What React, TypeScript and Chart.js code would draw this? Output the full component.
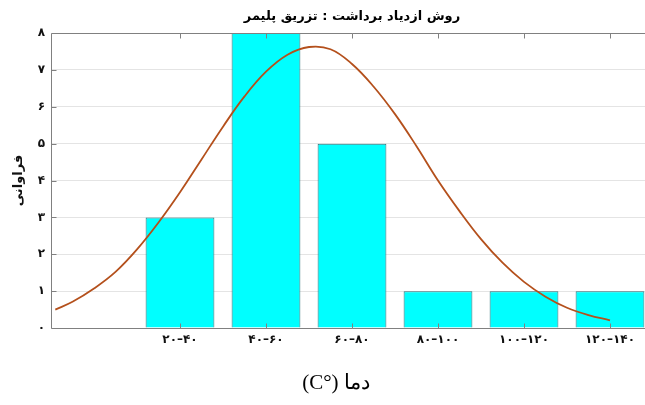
import React, { useEffect, useRef } from 'react';
import { Chart, registerables } from 'chart.js';

Chart.register(...registerables);

const chartTitle = 'روش ازدیاد برداشت : تزریق پلیمر';
const xAxisTitle = 'دما (°C)';
const yAxisTitle = 'فراوانی';

const binCenters = [30, 50, 70, 90, 110, 130];
const binLabels = ['۲۰–۴۰', '۴۰–۶۰', '۶۰–۸۰', '۸۰–۱۰۰', '۱۰۰–۱۲۰', '۱۲۰–۱۴۰'];
const frequencies = [3, 8, 5, 1, 1, 1];

const yTickLabels = ['۰', '۱', '۲', '۳', '۴', '۵', '۶', '۷', '۸'];

const fitX = [1, 5, 10, 15, 20, 25, 30, 35, 40, 45, 50, 55, 60, 65, 70, 75, 80, 85, 90, 95, 100, 105, 110, 115, 120, 125, 130];
const fitY = [0.5, 0.71, 1.07, 1.52, 2.13, 2.86, 3.68, 4.57, 5.46, 6.28, 6.95, 7.41, 7.62, 7.56, 7.16, 6.55, 5.8, 4.93, 4.0, 3.17, 2.41, 1.77, 1.25, 0.85, 0.55, 0.35, 0.21];

const decorPlugin = {
  id: 'decor',
  afterDatasetsDraw(chart: any) {
    const { ctx, chartArea } = chart;
    const { left, right, top, bottom } = chartArea;
    const x = chart.scales.x;
    const y = chart.scales.y;
    const L = Math.round(left) + 0.5;
    const T = Math.round(top) + 0.5;
    const B = Math.round(bottom) + 0.5;
    ctx.save();
    ctx.strokeStyle = '#808080';
    ctx.lineWidth = 1;
    ctx.beginPath();
    ctx.moveTo(right, T);
    ctx.lineTo(L, T);
    ctx.lineTo(L, B);
    ctx.lineTo(right, B);
    binCenters.forEach((v) => {
      const px = Math.round(x.getPixelForValue(v)) + 0.5;
      ctx.moveTo(px, T);
      ctx.lineTo(px, T + 5);
      ctx.moveTo(px, B);
      ctx.lineTo(px, B - 5);
    });
    for (let i = 1; i < yTickLabels.length - 1; i++) {
      const py = Math.round(y.getPixelForValue(i)) + 0.5;
      ctx.moveTo(L, py);
      ctx.lineTo(L + 5, py);
    }
    ctx.stroke();
    ctx.restore();
  },
  afterDraw(chart: any) {
    const { ctx, chartArea } = chart;
    ctx.save();
    ctx.fillStyle = '#000';
    ctx.textAlign = 'center';
    ctx.textBaseline = 'middle';
    ctx.direction = 'rtl';
    ctx.font = 'bold 13px "DejaVu Sans"';
    ctx.fillText(chartTitle, (chartArea.left + chartArea.right) / 2, 17);
    ctx.font = '21px "Liberation Serif"';
    ctx.fillText(xAxisTitle, 336, 383);
    ctx.restore();
  },
};

export default function App() {
  const canvasRef = useRef<HTMLCanvasElement | null>(null);

  useEffect(() => {
    if (!canvasRef.current) return;
    const chart = new Chart(canvasRef.current, {
      type: 'bar',
      data: {
        datasets: [
          {
            type: 'line',
            data: fitX.map((v, i) => ({ x: v, y: fitY[i] })),
            borderColor: '#b4501c',
            borderWidth: 1.8,
            pointRadius: 0,
            tension: 0.4,
            fill: false,
            order: 0,
          } as any,
          {
            type: 'bar',
            data: binCenters.map((v, i) => ({ x: v, y: frequencies[i] })),
            backgroundColor: '#00ffff',
            borderColor: '#2f6e75',
            borderWidth: 1,
            barPercentage: 1,
            categoryPercentage: 0.8,
            order: 1,
          } as any,
        ],
      },
      options: {
        animation: false,
        responsive: true,
        maintainAspectRatio: false,
        layout: { padding: { top: 33, right: 47, left: 0, bottom: 0 } },
        plugins: {
          legend: { display: false },
          tooltip: { enabled: false },
          title: { display: false },
        },
        scales: {
          x: {
            type: 'linear',
            min: 0,
            max: 140,
            offset: false,
            grid: { display: false, offset: false, drawTicks: false },
            border: { display: false },
            afterBuildTicks: (s: any) => {
              s.ticks = binCenters.map((v) => ({ value: v }));
            },
            afterFit: (s: any) => {
              s.height = 77;
            },
            ticks: {
              autoSkip: false,
              maxRotation: 0,
              padding: 5,
              color: '#111',
              font: { family: '"DejaVu Sans"', size: 12, weight: 'bold' },
              callback: (_v: any, i: number) => binLabels[i],
            },
          },
          y: {
            min: 0,
            max: 8,
            grid: { color: '#e4e4e4', drawTicks: false },
            border: { display: false },
            afterFit: (s: any) => {
              s.width = 51;
            },
            ticks: {
              stepSize: 1,
              padding: 6,
              color: '#111',
              font: { family: '"DejaVu Sans"', size: 12, weight: 'bold' },
              callback: (v: any) => yTickLabels[Number(v)],
            },
            title: {
              display: true,
              text: yAxisTitle,
              color: '#111',
              padding: { top: 11, bottom: 0 },
              font: { family: '"DejaVu Sans"', size: 13, weight: 'bold' },
            },
          },
        },
      } as any,
      plugins: [decorPlugin],
    });
    return () => chart.destroy();
  }, []);

  return (
    <div style={{ position: 'fixed', left: 0, top: 0, width: 645, height: 405, overflow: 'hidden', background: '#fff' }}>
      <div style={{ position: 'absolute', left: 0, top: 0, width: 700, height: 405 }}>
        <canvas ref={canvasRef} />
      </div>
    </div>
  );
}
